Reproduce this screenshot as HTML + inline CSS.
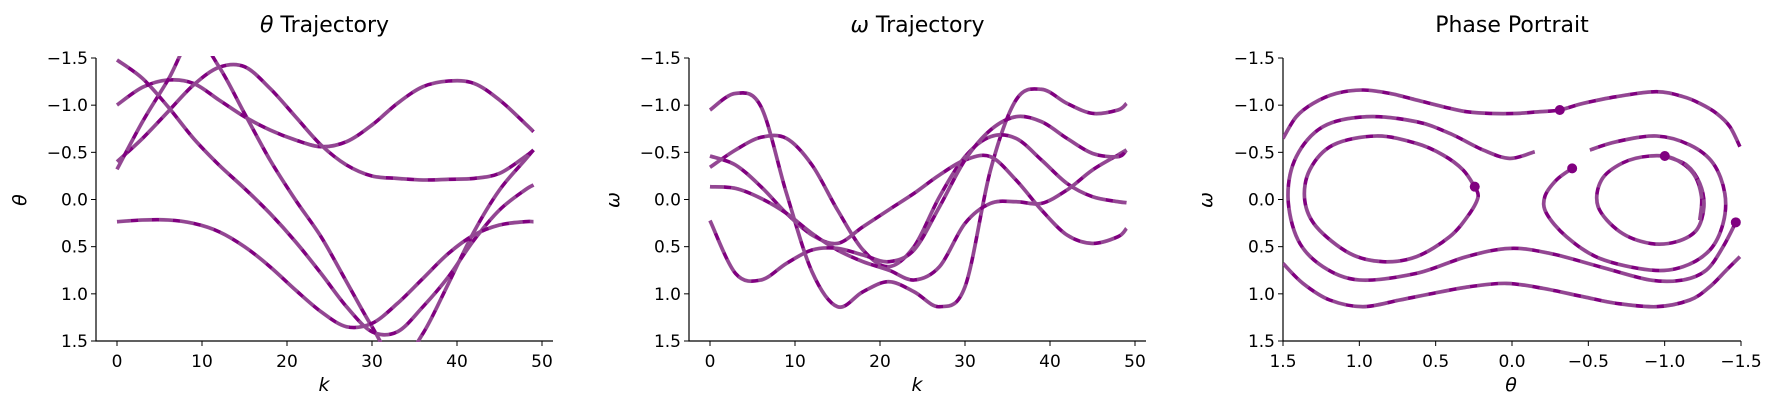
<!DOCTYPE html>
<html><head><meta charset="utf-8">
<style>
html,body{margin:0;padding:0;background:#fff;}
svg{display:block;font-family:"DejaVu Sans","Liberation Sans",sans-serif;}
</style></head>
<body>
<svg id="fig" width="1775" height="406" viewBox="0 0 1775 406" xmlns="http://www.w3.org/2000/svg"></svg>
<script>
// ---- shared tick labels ----
const yTicks = [-1.5, -1.0, -0.5, 0.0, 0.5, 1.0, 1.5];
const kTicks = [0, 10, 20, 30, 40, 50];
const thetaTicks = [1.5, 1.0, 0.5, 0.0, -0.5, -1.0, -1.5];
// ---- panel 1: theta trajectories (k grid) ----
const kGrid = [0,3,6,9,12,15,18,21,24,27,30,33,36,39,42,45,48,49];
const theta1 = [-1.002,-1.189,-1.267,-1.231,-1.055,-0.878,-0.737,-0.631,-0.560,-0.613,-0.790,-1.020,-1.196,-1.256,-1.231,-1.055,-0.807,-0.719];
const theta2 = [-0.401,-0.648,-0.931,-1.214,-1.401,-1.408,-1.178,-0.878,-0.578,-0.366,-0.249,-0.224,-0.207,-0.214,-0.224,-0.277,-0.454,-0.525];
const theta3 = [-0.320,-0.825,-1.267,-1.726,-1.408,-0.913,-0.419,0.005,0.394,0.871,1.348,1.737,1.419,0.889,0.341,-0.101,-0.419,-0.525];
const theta4 = [-1.479,-1.284,-0.984,-0.648,-0.366,-0.118,0.147,0.447,0.783,1.136,1.401,1.401,1.136,0.818,0.429,0.111,-0.101,-0.154];
const theta5 = [0.235,0.217,0.217,0.253,0.341,0.500,0.712,0.959,1.189,1.348,1.313,1.101,0.836,0.571,0.376,0.270,0.235,0.235];
// ---- panel 2: omega trajectories ----
const omega1 = [-0.949,-1.125,-0.984,-0.065,0.765,1.136,0.977,0.871,0.977,1.136,0.924,-0.313,-1.055,-1.168,-1.019,-0.913,-0.949,-1.019];
const omega2 = [-0.341,-0.525,-0.659,-0.648,-0.366,0.111,0.535,0.712,0.500,-0.030,-0.454,-0.666,-0.648,-0.419,-0.171,-0.030,0.023,0.034];
const omega3 = [-0.461,-0.366,-0.136,0.147,0.376,0.465,0.288,0.111,-0.065,-0.260,-0.419,-0.454,-0.207,0.111,0.376,0.465,0.394,0.306];
const omega4 = [-0.136,-0.118,-0.012,0.147,0.359,0.535,0.659,0.747,0.853,0.712,0.253,0.041,0.023,0.041,-0.101,-0.313,-0.472,-0.525];
const omega5 = [0.224,0.783,0.853,0.677,0.535,0.518,0.588,0.659,0.535,0.076,-0.419,-0.737,-0.878,-0.825,-0.648,-0.489,-0.454,-0.525];
// ---- panel 3: phase portrait (theta, omega) ----
const ph1Theta = [1.5,1.413,1.303,1.150,0.976,0.801,0.626,0.452,0.299,0.146,-0.029,-0.182,-0.313,-0.466,-0.684,-0.946,-1.121,-1.230,-1.340,-1.427,-1.493];
const ph1Omega = [-0.648,-0.878,-1.019,-1.125,-1.161,-1.125,-1.055,-0.984,-0.931,-0.913,-0.913,-0.931,-0.949,-1.019,-1.090,-1.143,-1.090,-1.019,-0.913,-0.772,-0.560];
const ph2Theta = [1.5,1.369,1.194,0.976,0.735,0.517,0.277,0.036,-0.204,-0.466,-0.684,-0.946,-1.165,-1.296,-1.405,-1.493];
const ph2Omega = [0.677,0.889,1.065,1.136,1.065,0.995,0.924,0.889,0.942,1.030,1.101,1.136,1.065,0.924,0.747,0.606];
const ph3Theta = [-0.149,0.015,0.189,0.408,0.626,0.954,1.238,1.413,1.467,1.402,1.238,0.998,0.626,0.299,0.015,-0.248,-0.575,-0.903,-1.121,-1.274,-1.383,-1.466];
const ph3Omega = [-0.507,-0.436,-0.525,-0.701,-0.825,-0.878,-0.772,-0.454,-0.030,0.429,0.712,0.853,0.783,0.606,0.518,0.571,0.712,0.853,0.853,0.747,0.500,0.242];
const ph4Theta = [0.244,0.320,0.452,0.626,0.888,1.172,1.325,1.358,1.282,1.063,0.845,0.626,0.408,0.277,0.222,0.244];
const ph4Omega = [-0.136,-0.313,-0.472,-0.595,-0.673,-0.578,-0.313,0.005,0.288,0.571,0.659,0.606,0.394,0.147,-0.030,-0.136];
const ph5Theta = [-0.394,-0.291,-0.215,-0.226,-0.357,-0.575,-0.903,-1.121,-1.296,-1.383,-1.394,-1.318,-1.165,-0.946,-0.684,-0.510];
const ph5Omega = [-0.330,-0.207,-0.030,0.147,0.394,0.624,0.747,0.712,0.535,0.253,-0.065,-0.383,-0.578,-0.673,-0.613,-0.525];
const ph6Theta = [-1.001,-1.143,-1.230,-1.257,-1.209,-1.078,-0.903,-0.706,-0.564,-0.586,-0.728,-0.903,-1.056,-1.187,-1.241,-1.230];
const ph6Omega = [-0.461,-0.366,-0.171,0.076,0.323,0.447,0.465,0.341,0.076,-0.207,-0.390,-0.461,-0.436,-0.277,-0.030,0.217];
const dotTheta = [-0.313, 0.244, -0.394, -1.001, -1.466];
const dotOmega = [-0.949, -0.136, -0.330, -0.461, 0.242];

const NS = "http://www.w3.org/2000/svg";
const svg = document.getElementById('fig');
function mk(tag, attrs, parent){
  const e = document.createElementNS(NS, tag);
  for (const k in attrs) e.setAttribute(k, attrs[k]);
  (parent||svg).appendChild(e);
  return e;
}
const Y0 = 58, Y1 = 341;
function yScale(v){ return Y0 + (v + 1.5) / 3 * (Y1 - Y0); }
function kScale(x0){ return k => x0 + 21 + k * 8.5; }
function thScale(t){ return 1283 + (1.5 - t) / 3 * 458; }

function smoothPath(pts){
  let d = 'M' + pts[0][0].toFixed(1) + ',' + pts[0][1].toFixed(1);
  for (let i = 0; i < pts.length - 1; i++){
    const p0 = pts[i-1] || pts[i], p1 = pts[i], p2 = pts[i+1], p3 = pts[i+2] || p2;
    const c1x = p1[0] + (p2[0]-p0[0])/6, c1y = p1[1] + (p2[1]-p0[1])/6;
    const c2x = p2[0] - (p3[0]-p1[0])/6, c2y = p2[1] - (p3[1]-p1[1])/6;
    d += ' C' + c1x.toFixed(1)+','+c1y.toFixed(1)+' '+c2x.toFixed(1)+','+c2y.toFixed(1)+' '+p2[0].toFixed(1)+','+p2[1].toFixed(1);
  }
  return d;
}

function panel(id, xL, xR, title, xlabel, ylabel, xlabX, ylabX){
  const g = mk('g', {});
  
  
  const clip = mk('clipPath', {id: id + '-clip'}, g);
  mk('rect', {x: xL, y: Y0 - 2, width: xR - xL + 6, height: Y1 - Y0 + 3}, clip);
  const t = mk('text', {x: (xL + xR)/2, y: 32, 'font-size': 22, 'text-anchor': 'middle', fill: '#000'}, g);
  
  
  t.innerHTML = title;
  const xl = mk('text', {x: xlabX, y: 391, 'font-size': 19, 'text-anchor': 'middle', 'font-style': 'italic'}, g);
  
  
  xl.textContent = xlabel;
  const yl = mk('text', {x: ylabX, y: 200, 'font-size': 19, 'text-anchor': 'middle', 'font-style': 'italic', transform: 'rotate(-90 ' + ylabX + ' 200)', 'dominant-baseline': 'central'}, g);
  
  
  yl.textContent = ylabel;
  yTicks.forEach(v => {
    const y = yScale(v);
    mk('line', {x1: xL - 5, x2: xL, y1: y, y2: y, stroke: '#000', 'stroke-width': 1}, g);
    const tl = mk('text', {x: xL - 8, y: y + 6, 'font-size': 17, 'text-anchor': 'end'}, g);
    
    
    tl.textContent = v.toFixed(1).replace('-', '\u2212');
  });
  const sp = mk('path', {d: 'M' + xL + ',' + Y0 + ' V' + Y1 + ' H' + xR, fill: 'none', stroke: '#000', 'stroke-width': 1.2}, g);
  
  
  return g;
}
function xTick(g, x, label){
  mk('line', {x1: x, x2: x, y1: Y1, y2: Y1 + 5, stroke: '#000', 'stroke-width': 1}, g);
  const tl = mk('text', {x: x, y: 367, 'font-size': 17, 'text-anchor': 'middle'}, g);
  
  
  tl.textContent = label;
}
function series(g, id, pts, name){
  const cg = mk('g', {'clip-path': 'url(#' + id + '-clip)'}, g);
  const d = smoothPath(pts);
  const p = mk('path', {d: d, fill: 'none', stroke: '#800080', 'stroke-width': 3.6, 'stroke-linejoin': 'round', 'stroke-linecap': 'butt'}, cg);
  
  
  const ref = mk('path', {d: d, fill: 'none', stroke: '#b0b0b0', 'stroke-opacity': 0.4, 'stroke-width': 4, 'stroke-dasharray': '14,7'}, cg);
  
  
}

// Panel 1
const g1 = panel('theta', 96, 553, '<tspan font-style="italic">θ</tspan> Trajectory', 'k', 'θ', 324, 20);
const kx1 = kScale(96);
kTicks.forEach(k => xTick(g1, kx1(k), String(k)));
[theta1, theta2, theta3, theta4, theta5].forEach((arr, i) => {
  series(g1, 'theta', arr.map((v, j) => [kx1(kGrid[j]), yScale(v)]), 'theta-trajectory-' + (i+1));
});
// Panel 2
const g2 = panel('omega', 689, 1146, '<tspan font-style="italic">ω</tspan> Trajectory', 'k', 'ω', 917, 613);
const kx2 = kScale(689);
kTicks.forEach(k => xTick(g2, kx2(k), String(k)));
[omega1, omega2, omega3, omega4, omega5].forEach((arr, i) => {
  series(g2, 'omega', arr.map((v, j) => [kx2(kGrid[j]), yScale(v)]), 'omega-trajectory-' + (i+1));
});
// Panel 3
const g3 = panel('phase', 1283, 1741, 'Phase Portrait', 'θ', 'ω', 1511, 1206);
thetaTicks.forEach(t => xTick(g3, thScale(t), t.toFixed(1).replace('-', '\u2212')));
const phT = [ph1Theta, ph2Theta, ph3Theta, ph4Theta, ph5Theta, ph6Theta];
const phO = [ph1Omega, ph2Omega, ph3Omega, ph4Omega, ph5Omega, ph6Omega];
phT.forEach((arr, i) => {
  series(g3, 'phase', arr.map((t, j) => [thScale(t), yScale(phO[i][j])]), 'phase-curve-' + (i+1));
});
dotTheta.forEach((t, i) => {
  const c = mk('circle', {cx: thScale(t), cy: yScale(dotOmega[i]), r: 5, fill: '#800080'}, g3);
  
  
});
</script>
</body></html>
